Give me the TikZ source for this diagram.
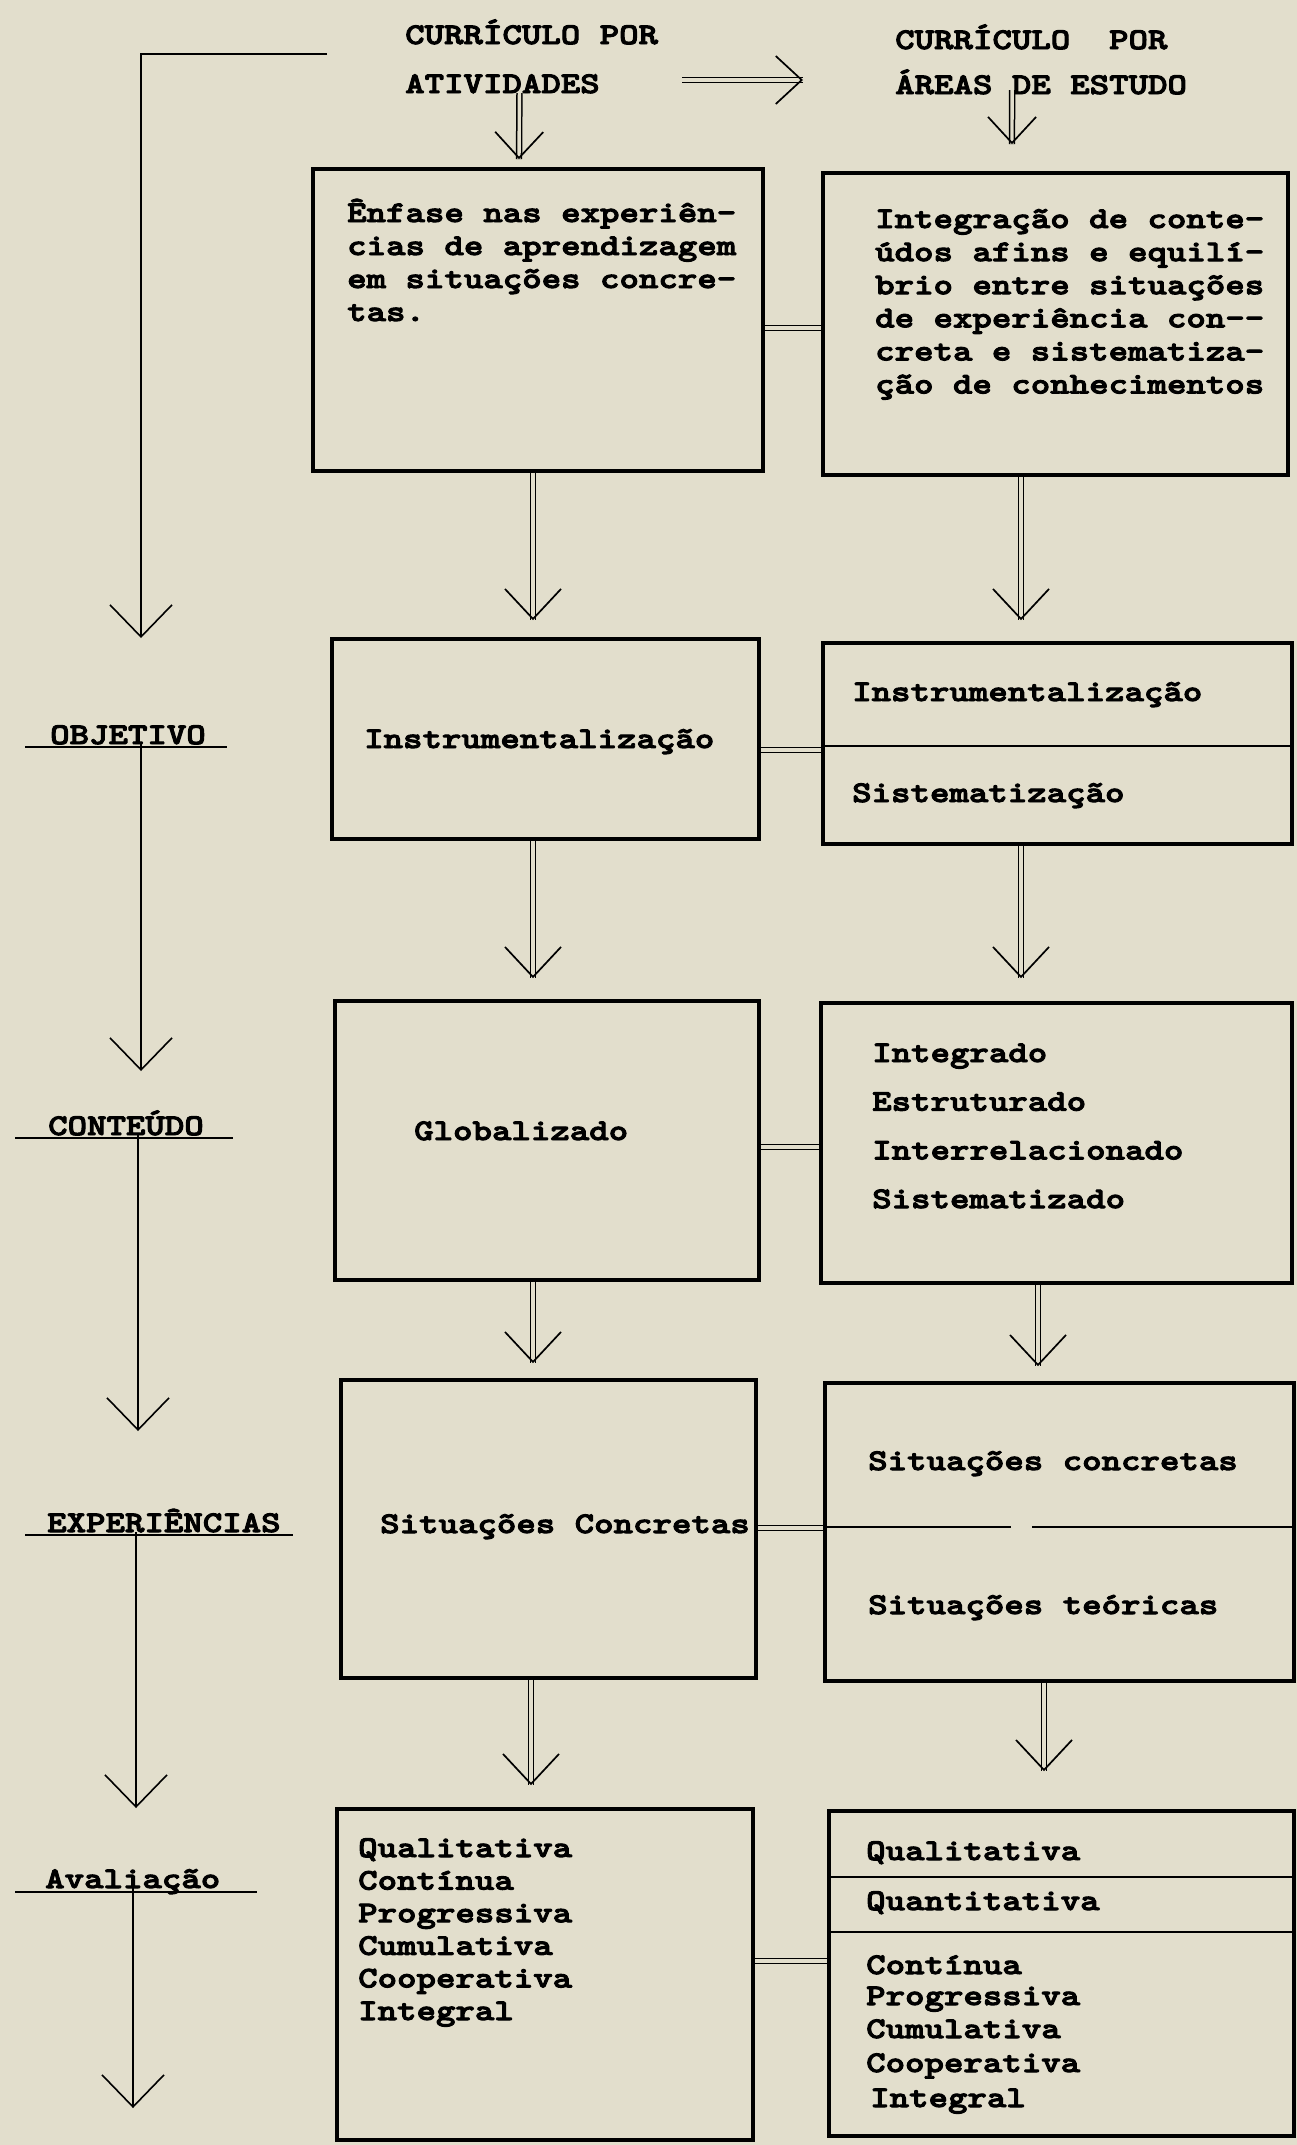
\documentclass[tikz,border=0pt]{standalone}
\usepackage{fontspec}
\newfontfamily\tw{lmmonolt10-bold}[Extension=.otf, FakeStretch=1.235, FakeBold=3.2]
\usetikzlibrary{arrows.meta}
\definecolor{bg}{RGB}{226,222,204}
\begin{document}
\begin{tikzpicture}[x=1pt,y=-1pt,
 box/.style={draw, line width=3.6pt, inner sep=0pt},
 txt/.style={inner sep=0pt, anchor=base west, text height=20pt, text depth=7pt, font=\tw\fontsize{30}{33}\selectfont},
 dbl/.style={draw=none, postaction={draw, line width=1.5pt, double=bg, double distance=3.4pt}, postaction={draw=bg, line width=0.6pt, -{Straight Barb[length=30pt,width=56pt,line width=1.7pt,color=black]}}},
 dbls/.style={draw=none, postaction={draw, line width=1.5pt, double=bg, double distance=3.4pt}, postaction={draw=bg, line width=0.6pt, -{Straight Barb[length=26pt,width=48pt,line width=1.7pt,color=black]}}},
 dblline/.style={draw, line width=1.5pt, double=bg, double distance=3.2pt},
 tarrow/.style={draw, line width=1.6pt, -{Straight Barb[length=32pt,width=62pt,line width=1.6pt]}},
 uline/.style={draw, line width=1.6pt},
 divider/.style={draw, line width=2pt}]
\fill[bg] (0,0) rectangle (1297,2145);
\useasboundingbox (0,0) rectangle (1297,2145);

% headers
\node[txt] (hA1) at (405,44) {CURRÍCULO POR};
\node[txt] (hA2) at (405,93) {ATIVIDADES};
\node[txt] (hB1) at (895,49) {CURRÍCULO\ \ POR};
\node[txt] (hB2) at (895,94) {ÁREAS DE ESTUDO};

% boxes
\node[box, minimum width=450pt, minimum height=302pt] (L1) at (538,320) {};
\node[box, minimum width=465pt, minimum height=302pt] (R1) at (1055.5,324) {};
\node[box, minimum width=427pt, minimum height=200pt] (L2) at (545.5,739) {};
\node[box, minimum width=469pt, minimum height=201pt] (R2) at (1057.5,743.5) {};
\node[box, minimum width=424pt, minimum height=279pt] (L3) at (547,1140.5) {};
\node[box, minimum width=471pt, minimum height=280pt] (R3) at (1056.5,1143) {};
\node[box, minimum width=415pt, minimum height=298pt] (L4) at (548.5,1529) {};
\node[box, minimum width=469pt, minimum height=298pt] (R4) at (1059.5,1532) {};
\node[box, minimum width=416pt, minimum height=331pt] (L5) at (545,1974.5) {};
\node[box, minimum width=465pt, minimum height=325pt] (R5) at (1061.5,1973.5) {};

% dividers
\draw[divider] ([yshift=-2.5pt]R2.west) -- ([yshift=-2.5pt]R2.east);
\draw[divider] ([yshift=5pt]R4.west) -- ([xshift=-48.5pt,yshift=5pt]R4.center);
\draw[divider] ([xshift=-27.5pt,yshift=5pt]R4.center) -- ([yshift=5pt]R4.east);
\draw[divider] ([yshift=-67.5pt]R5.north west) -- ([yshift=-67.5pt]R5.north east);
\draw[divider] ([yshift=-122.5pt]R5.north west) -- ([yshift=-122.5pt]R5.north east);

% box texts
\foreach \t [count=\k from 0] in {Ênfase nas experiên-, cias de aprendizagem, em situações concre-, tas.}
  \node[txt] (L1t\k) at (347,{222+33*\k}) {\t};
\foreach \t [count=\k from 0] in {Integração de conte-, údos afins e equilí-, brio entre situações, de experiência con-{}-, creta e sistematiza-, ção de conhecimentos}
  \node[txt] (R1t\k) at (875,{228+33.1*\k}) {\t};
\node[txt] (L2t) at (364,748) {Instrumentalização};
\node[txt] (R2t1) at (852,701) {Instrumentalização};
\node[txt] (R2t2) at (852,802) {Sistematização};
\node[txt] (L3t) at (414,1140) {Globalizado};
\foreach \t [count=\k from 0] in {Integrado, Estruturado, Interrelacionado, Sistematizado}
  \node[txt] (R3t\k) at (872,{1062+48.7*\k}) {\t};
\node[txt] (L4t) at (380,1533) {Situações Concretas};
\node[txt] (R4t1) at (868,1470) {Situações concretas};
\node[txt] (R4t2) at (868,1614) {Situações teóricas};
\foreach \t [count=\k from 0] in {Qualitativa, Contínua, Progressiva, Cumulativa, Cooperativa, Integral}
  \node[txt] (L5t\k) at (358,{1857+32.6*\k}) {\t};
\node[txt] (R5t1) at (866,1860) {Qualitativa};
\node[txt] (R5t2) at (866,1910) {Quantitativa};
\node[txt] (R5t3) at (866,1974) {Contínua};
\node[txt] (R5t4) at (866,2005) {Progressiva};
\node[txt] (R5t5) at (866,2038) {Cumulativa};
\node[txt] (R5t6) at (866,2072) {Cooperativa};
\node[txt] (R5t7) at (870,2107) {Integral};

% header arrows
\draw[dbls] ([xshift=82.5pt,yshift=6.5pt]hA2.east) -- ([xshift=-92pt,yshift=7.5pt]hB2.west);
\draw[dbls] ([xshift=17pt,yshift=7pt]hA2.south) -- ([xshift=-19pt,yshift=8pt]L1.north);
\draw[dbls] ([xshift=-29pt,yshift=11pt]hB2.south) -- ([xshift=-43.5pt,yshift=27pt]R1.north);

% vertical double arrows
\draw[dbl] ([xshift=-5pt]L1.south) -- ([xshift=-12.5pt,yshift=17pt]L2.north);
\draw[dbl] ([xshift=-34.5pt]R1.south) -- ([xshift=-36.5pt,yshift=21pt]R2.north);
\draw[dbl] ([xshift=-12.5pt]L2.south) -- ([xshift=-14pt,yshift=21pt]L3.north);
\draw[dbl] ([xshift=-36.5pt]R2.south) -- ([xshift=-35.5pt,yshift=23pt]R3.north);
\draw[dbl] ([xshift=-14pt]L3.south) -- ([xshift=-15.5pt,yshift=15pt]L4.north);
\draw[dbl] ([xshift=-18.5pt]R3.south) -- ([xshift=-21.5pt,yshift=15pt]R4.north);
\draw[dbl] ([xshift=-17.5pt]L4.south) -- ([xshift=-14pt,yshift=22pt]L5.north);
\draw[dbl] ([xshift=-15.5pt]R4.south) -- ([xshift=-17.5pt,yshift=38pt]R5.north);

% horizontal links
\draw[dblline] ([yshift=-8pt]L1.east) -- ([yshift=-4pt]R1.west);
\draw[dblline] ([yshift=-11pt]L2.east) -- ([yshift=-6.5pt]R2.west);
\draw[dblline] ([yshift=-6.5pt]L3.east) -- ([yshift=-4pt]R3.west);
\draw[dblline] ([yshift=1pt]L4.east) -- ([yshift=4pt]R4.west);
\draw[dblline] ([yshift=13.5pt]L5.east) -- ([yshift=12.5pt]R5.west);

% left column
\coordinate (b0) at (327,54);
\coordinate (t0) at (141,638);
\draw[tarrow] (b0) -| (t0);

\node[txt] (lab1) at (50,744) {OBJETIVO};
\node[txt] (lab2) at (48,1135) {CONTEÚDO};
\node[txt] (lab3) at (47,1532) {EXPERIÊNCIAS};
\node[txt] (lab4) at (45,1888) {Avaliação};

\draw[uline] ([xshift=-25pt,yshift=-3pt]lab1.base west) -- ([xshift=177pt,yshift=-3pt]lab1.base west);
\draw[uline] ([xshift=-33pt,yshift=-3pt]lab2.base west) -- ([xshift=185pt,yshift=-3pt]lab2.base west);
\draw[uline] ([xshift=-22pt,yshift=-3pt]lab3.base west) -- ([xshift=246pt,yshift=-3pt]lab3.base west);
\draw[uline] ([xshift=-30pt,yshift=-4pt]lab4.base west) -- ([xshift=212pt,yshift=-4pt]lab4.base west);

\coordinate (t1) at (141,1071);
\coordinate (t2) at (138,1431);
\coordinate (t3) at (136,1808);
\coordinate (t4) at (133,2108);
\draw[tarrow] (lab1.base west -| t1) -- (t1);
\draw[tarrow] (lab2.base west -| t2) -- (t2);
\draw[tarrow] (lab3.base west -| t3) -- (t3);
\draw[tarrow] (lab4.base west -| t4) -- (t4);
\end{tikzpicture}
\end{document}
